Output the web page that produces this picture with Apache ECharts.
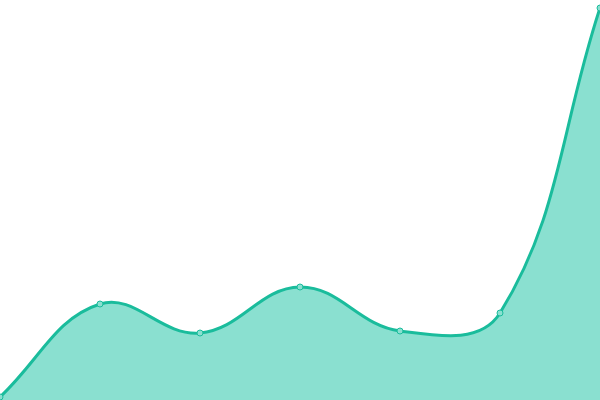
<!DOCTYPE html>
<html>
<head>
<meta charset="utf-8">
<script src="https://cdn.jsdelivr.net/npm/echarts@6/dist/echarts.min.js"></script>
<style>html,body{margin:0;padding:0;background:#fff;}#c{width:600px;height:400px;}</style>
</head>
<body>
<div id="c"></div>
<script>
var categories = ['1', '2', '3', '4', '5', '6', '7'];
var values = [3, 96, 67, 113, 69, 87, 392];

var LINE_COLOR = '#1abc9c';
var AREA_COLOR = '#8ae0d0';
var TENSION = 0.4;

// Cardinal-style spline control points (distance weighted), computed in pixel space
function splinePath(pts) {
  var n = pts.length;
  var cps = [];
  for (var i = 0; i < n; i++) {
    var p = pts[i];
    var prev = i > 0 ? pts[i - 1] : p;
    var next = i < n - 1 ? pts[i + 1] : p;
    var d01 = Math.hypot(p[0] - prev[0], p[1] - prev[1]);
    var d12 = Math.hypot(next[0] - p[0], next[1] - p[1]);
    var s01 = d01 / (d01 + d12) || 0;
    var s12 = d12 / (d01 + d12) || 0;
    var fa = TENSION * s01, fb = TENSION * s12;
    cps.push({
      prev: [p[0] - fa * (next[0] - prev[0]), p[1] - fa * (next[1] - prev[1])],
      next: [p[0] + fb * (next[0] - prev[0]), p[1] + fb * (next[1] - prev[1])]
    });
  }
  var d = 'M' + pts[0][0] + ' ' + pts[0][1];
  for (var j = 1; j < n; j++) {
    var c1 = cps[j - 1].next, c2 = cps[j].prev;
    d += ' C' + c1[0] + ' ' + c1[1] + ' ' + c2[0] + ' ' + c2[1] + ' ' + pts[j][0] + ' ' + pts[j][1];
  }
  return d;
}

var chart = echarts.init(document.getElementById('c'));
chart.setOption({
  animation: false,
  grid: { left: 0, right: 0, top: 0, bottom: 0 },
  xAxis: { type: 'category', data: categories, boundaryGap: false, show: false },
  yAxis: { type: 'value', min: 0, max: 400, show: false },
  series: [{
    type: 'custom',
    data: values.map(function (v, i) { return [i, v]; }),
    z: 1,
    renderItem: function (params, api) {
      if (params.dataIndex !== 0) return null;
      var pts = values.map(function (v, i) { return api.coord([i, v]); });
      var baseY = api.coord([0, 0])[1];
      var line = splinePath(pts);
      var area = line + ' L' + pts[pts.length - 1][0] + ' ' + baseY + ' L' + pts[0][0] + ' ' + baseY + ' Z';
      return {
        type: 'group',
        children: [
          { type: 'path', shape: { pathData: area }, style: { fill: AREA_COLOR, stroke: null } },
          { type: 'path', shape: { pathData: line }, style: { fill: null, stroke: LINE_COLOR, lineWidth: 3, lineJoin: 'round', lineCap: 'round' } }
        ]
      };
    }
  }, {
    type: 'scatter',
    z: 3,
    data: values.map(function (v, i) { return [categories[i], v]; }),
    symbol: 'circle',
    symbolSize: 6,
    itemStyle: { color: AREA_COLOR, borderColor: LINE_COLOR, borderWidth: 1, opacity: 1 }
  }]
});
</script>
</body>
</html>
